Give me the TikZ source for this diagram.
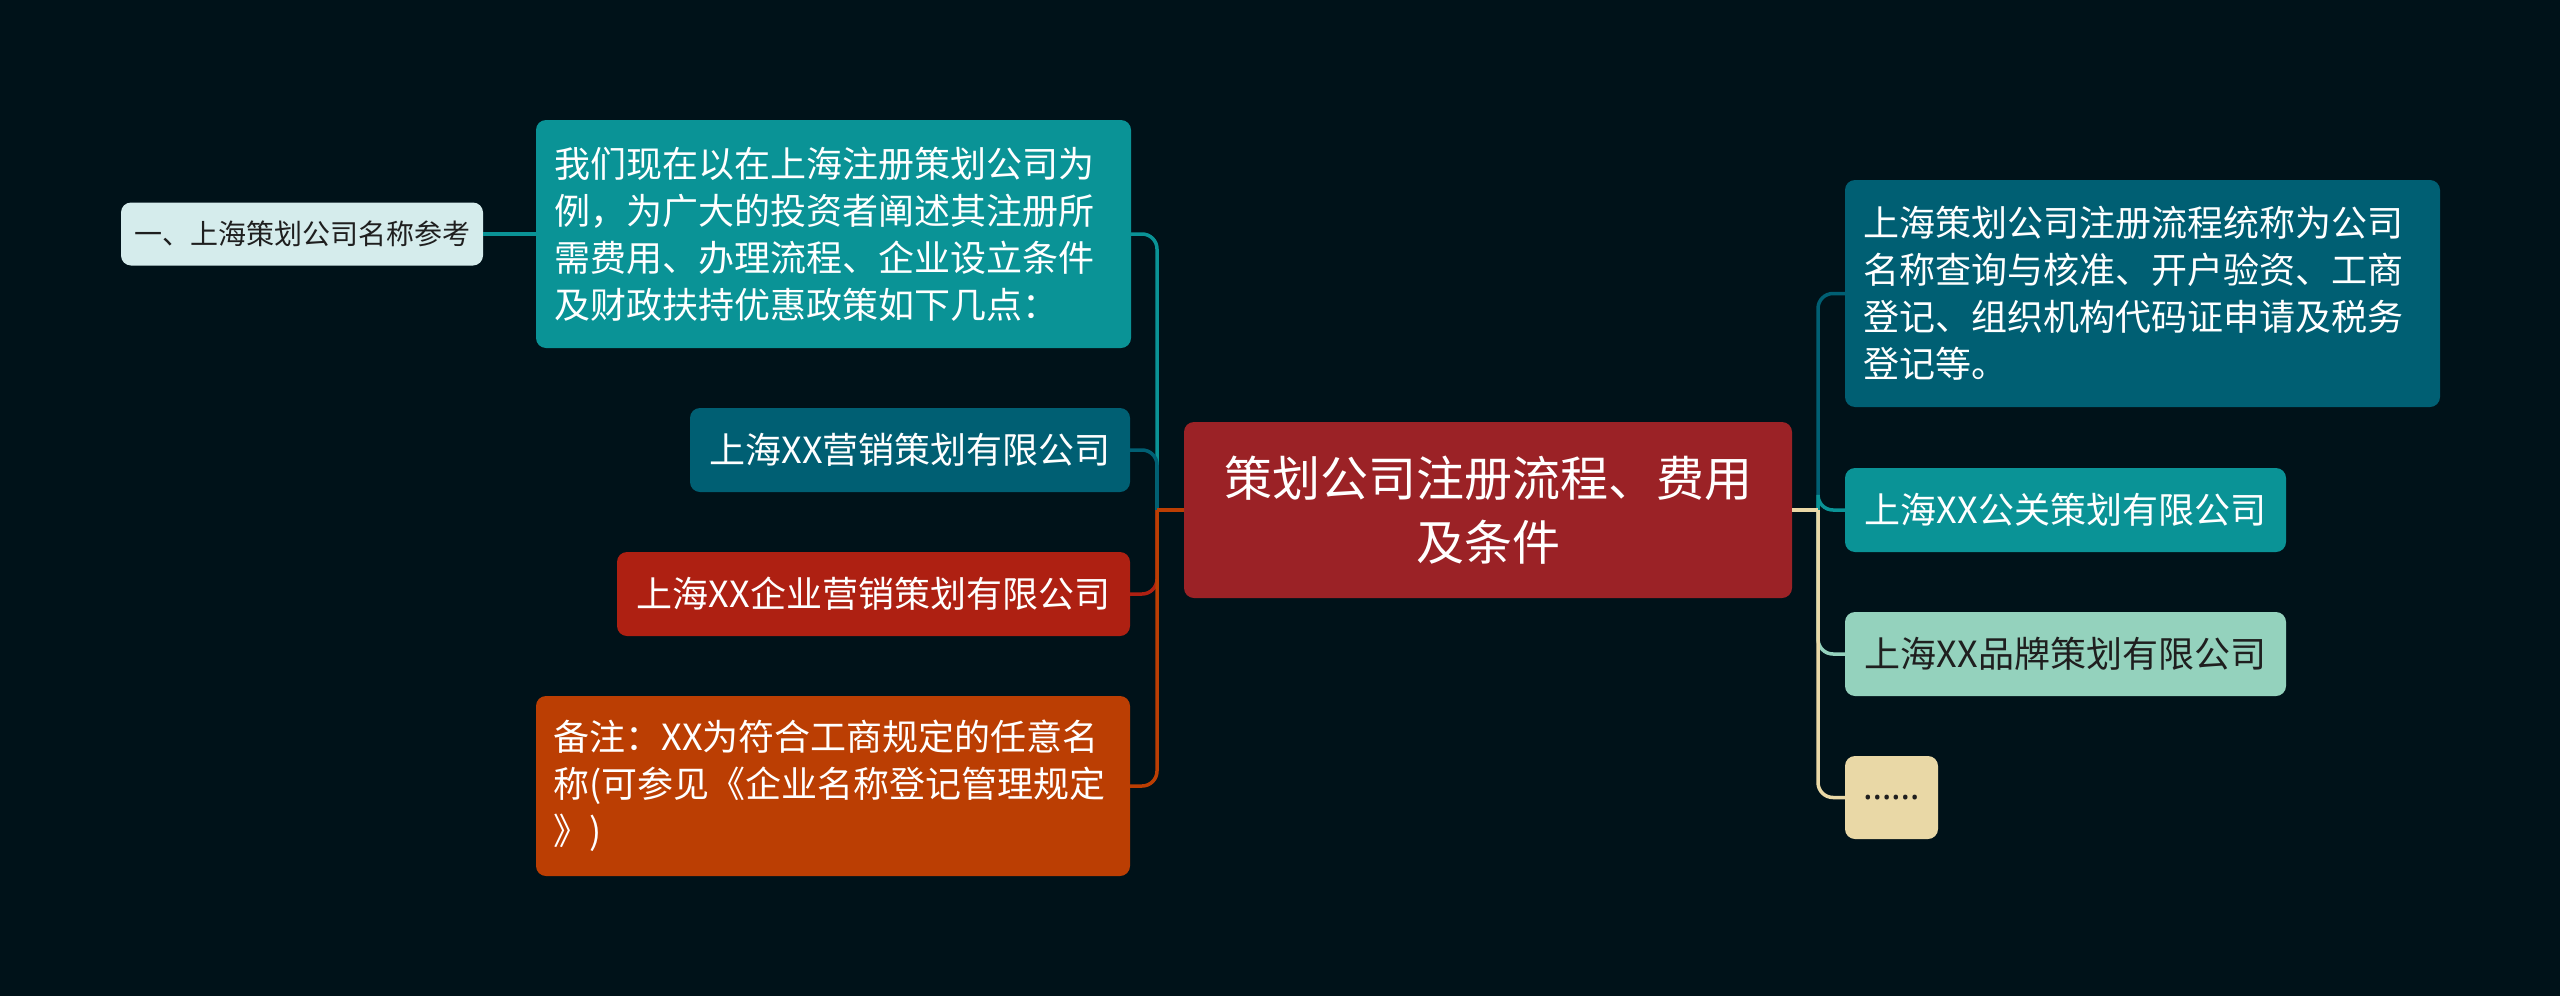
\documentclass[tikz,border=0pt]{standalone}
\usepackage{fontspec}
\setmainfont{Noto Sans CJK SC}
\newfontfamily\dotsfont{Noto Sans}
\definecolor{bg}{HTML}{001219}
\definecolor{dteal}{HTML}{005F73}
\definecolor{teal2}{HTML}{0A9396}
\definecolor{mint}{HTML}{94D2BD}
\definecolor{sand}{HTML}{E9D8A6}
\definecolor{rust}{HTML}{BB3E03}
\definecolor{red2}{HTML}{AE2012}
\definecolor{wine}{HTML}{9B2226}
\definecolor{pale}{HTML}{D5ECEC}
\definecolor{ink}{HTML}{1F1F1F}
\begin{document}
\begin{tikzpicture}[x=1pt,y=-1pt,
  box/.style={rounded corners=10pt, inner sep=0pt, align=center, text=white},
  conn/.style={line width=3.5pt},
  conncurve/.style={line width=3.5pt, rounded corners=15pt},
  f36/.style={font=\fontsize{36pt}{47pt}\selectfont},
  para/.style={text width=559pt, align=left},
]
\fill[bg] (0,0) rectangle (2560,996);
% centre
\node[box, fill=wine, minimum width=608pt, minimum height=176pt,
      font=\fontsize{48pt}{64pt}\selectfont] (c) at (1488,510)
  {策划公司注册流程、费用\\及条件};
% left
\node[box, fill=teal2, f36, para, minimum width=595pt, minimum height=228pt] (n2) at (833.5,234)
  {我们现在以在上海注册策划公司为\\例，为广大的投资者阐述其注册所\\需费用、办理流程、企业设立条件\\及财政扶持优惠政策如下几点：};
\node[box, fill=pale, text=ink, font=\fontsize{28pt}{34pt}\selectfont,
      minimum width=362pt, minimum height=63pt] (n1) at (302,234)
  {一、上海策划公司名称参考};
\node[box, fill=dteal, f36, minimum width=440pt, minimum height=84pt] (n3) at (910,450)
  {上海XX营销策划有限公司};
\node[box, fill=red2, f36, minimum width=513pt, minimum height=84pt] (n4) at (873.5,594)
  {上海XX企业营销策划有限公司};
\node[box, fill=rust, f36, para, minimum width=594pt, minimum height=180pt] (n5) at (833,786)
  {备注：XX为符合工商规定的任意名\\称(可参见《企业名称登记管理规定\\》)};
% right
\node[box, fill=dteal, f36, para, minimum width=595pt, minimum height=227pt] (r1) at (2142.5,293.5)
  {上海策划公司注册流程统称为公司\\名称查询与核准、开户验资、工商\\登记、组织机构代码证申请及税务\\登记等。};
\node[box, fill=teal2, f36, minimum width=441pt, minimum height=84pt] (r2) at (2065.5,510)
  {上海XX公关策划有限公司};
\node[box, fill=mint, text=ink, f36, minimum width=441pt, minimum height=84pt] (r3) at (2065.5,654)
  {上海XX品牌策划有限公司};
\node[box, fill=sand, text=ink, font=\fontsize{36pt}{47pt}\selectfont\dotsfont,
      minimum width=93pt, minimum height=83pt] (r4) at (1891.5,797.5)
  {……};
% connectors
\coordinate (ls) at (1157,510);
\coordinate (rs) at (1818,510);
\draw[conn, teal2] (n2.west) -- (n1.east);
\draw[conn, teal2] (c.west) -- (ls);
\draw[conncurve, teal2] (ls) |- (n2.east);
\draw[conn, dteal] (c.west) -- (ls);
\draw[conncurve, dteal] (ls) |- (n3.east);
\draw[conn, red2] (c.west) -- (ls);
\draw[conncurve, red2] (ls) |- (n4.east);
\draw[conn, rust] (c.west) -- (ls);
\draw[conncurve, rust] (ls) |- (n5.east);
\draw[conn, dteal] (c.east) -- (rs);
\draw[conncurve, dteal] (rs) |- (r1.west);
\draw[conn, teal2] (c.east) -- (rs);
\draw[conncurve, teal2] (rs) |- (r2.west);
\draw[conn, mint] (c.east) -- (rs);
\draw[conncurve, mint] (rs) |- (r3.west);
\draw[conn, sand] (c.east) -- (rs);
\draw[conncurve, sand] (rs) |- (r4.west);
\end{tikzpicture}
\end{document}
